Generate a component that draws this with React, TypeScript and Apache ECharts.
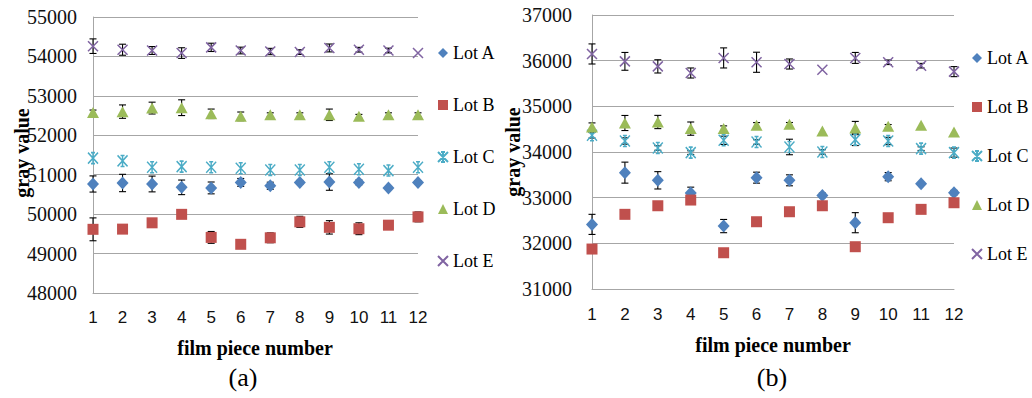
import React, { useEffect, useRef } from 'react';
import * as echarts from 'echarts';

// ---------- data ----------
const pieces = [1, 2, 3, 4, 5, 6, 7, 8, 9, 10, 11, 12];
const lotNames = ['Lot A', 'Lot B', 'Lot C', 'Lot D', 'Lot E'];

// y ranges and tick step
const rangeA = [48000, 55000];
const rangeB = [31000, 37000];
const yStep = 1000;

// panel (a) values and error (± half-length)
const aLotA = [50765, 50790, 50765, 50680, 50665, 50805, 50720, 50805, 50815, 50805, 50665, 50805];
const aLotAErr = [205, 220, 200, 185, 150, 100, 90, 50, 210, 60, 0, 40];
const aLotB = [49615, 49620, 49780, 49995, 49410, 49235, 49400, 49805, 49665, 49630, 49720, 49930];
const aLotBErr = [290, 40, 90, 0, 150, 50, 125, 140, 170, 150, 100, 125];
const aLotC = [51420, 51350, 51190, 51205, 51190, 51165, 51120, 51120, 51190, 51140, 51105, 51190];
const aLotCErr = [0, 0, 0, 0, 0, 0, 0, 0, 0, 0, 0, 0];
const aLotD = [52580, 52600, 52690, 52700, 52545, 52480, 52520, 52520, 52520, 52480, 52520, 52520];
const aLotDErr = [60, 170, 150, 200, 120, 110, 50, 50, 145, 50, 50, 50];
const aLotE = [54260, 54170, 54150, 54085, 54230, 54150, 54125, 54110, 54215, 54170, 54150, 54085];
const aLotEErr = [185, 140, 100, 135, 105, 85, 80, 60, 100, 60, 60, 0];

// panel (b)
const bLotA = [32415, 33548, 33380, 33100, 32378, 33438, 33380, 33050, 32452, 33460, 33307, 33110];
const bLotAErr = [220, 230, 190, 130, 145, 120, 120, 50, 220, 90, 0, 50];
const bLotB = [31875, 32635, 32823, 32948, 31794, 32473, 32692, 32823, 31926, 32561, 32744, 32889];
const bLotBErr = [0, 0, 0, 60, 0, 0, 0, 0, 0, 0, 0, 0];
const bLotC = [34366, 34241, 34088, 33987, 34256, 34219, 34110, 34000, 34271, 34241, 34074, 33987];
const bLotCErr = [60, 70, 50, 40, 90, 50, 170, 50, 130, 80, 40, 100];
const bLotD = [34547, 34635, 34657, 34512, 34512, 34584, 34606, 34460, 34525, 34562, 34584, 34437];
const bLotDErr = [90, 165, 145, 145, 60, 60, 40, 0, 145, 40, 0, 0];
const bLotE = [36147, 35985, 35875, 35730, 36060, 35965, 35927, 35803, 36060, 35965, 35890, 35760];
const bLotEErr = [220, 195, 145, 110, 220, 220, 110, 0, 120, 50, 50, 110];

const panelA = [
  { values: aLotA, errors: aLotAErr },
  { values: aLotB, errors: aLotBErr },
  { values: aLotC, errors: aLotCErr },
  { values: aLotD, errors: aLotDErr },
  { values: aLotE, errors: aLotEErr },
];
const panelB = [
  { values: bLotA, errors: bLotAErr },
  { values: bLotB, errors: bLotBErr },
  { values: bLotC, errors: bLotCErr },
  { values: bLotD, errors: bLotDErr },
  { values: bLotE, errors: bLotEErr },
];

// ---------- styles ----------
const SERIF = '"Liberation Serif", "Times New Roman", serif';
const SANS = '"Liberation Sans", Arial, sans-serif';
const GRID_COLOR = '#A6A6A6';
const lotStyles = [
  { symbol: 'diamond', size: [12, 13], color: '#4F81BD', border: 0 },
  { symbol: 'rect', size: 11, color: '#C0504D', border: 0 },
  {
    symbol: 'path://M0 0L10 10M10 0L0 10M5 0L5 10M3 0L7 0M3 10L7 10',
    size: [10, 11],
    color: '#4BACC6',
    border: 1.5,
  },
  { symbol: 'triangle', size: [12, 11], color: '#9BBB59', border: 0 },
  { symbol: 'path://M0 0L10 10M10 0L0 10', size: 10, color: '#8064A2', border: 1.5 },
];

const errorRender = (params: any, api: any) => {
  const x = api.value(0);
  const v = api.value(1);
  const e = api.value(2);
  if (!e || e <= 0) return null;
  const top = api.coord([x, v + e]);
  const bot = api.coord([x, v - e]);
  const w = 3.5;
  const style = { stroke: '#000', lineWidth: 1.1 };
  return {
    type: 'group',
    children: [
      { type: 'line', shape: { x1: top[0], y1: top[1], x2: bot[0], y2: bot[1] }, style },
      { type: 'line', shape: { x1: top[0] - w, y1: top[1], x2: top[0] + w, y2: top[1] }, style },
      { type: 'line', shape: { x1: bot[0] - w, y1: bot[1], x2: bot[0] + w, y2: bot[1] }, style },
    ],
  };
};

function buildSeries(panel: { values: number[]; errors: number[] }[], idx: number) {
  const out: any[] = [];
  panel.forEach((lot, i) => {
    out.push({
      type: 'custom',
      name: 'err-' + idx + '-' + i,
      xAxisIndex: idx,
      yAxisIndex: idx,
      data: pieces.map((p, k) => [p, lot.values[k], lot.errors[k]]),
      encode: { x: 0, y: 1 },
      renderItem: errorRender,
      z: 1,
      silent: true,
    });
  });
  panel.forEach((lot, i) => {
    const st = lotStyles[i];
    out.push({
      type: 'scatter',
      name: lotNames[i],
      xAxisIndex: idx,
      yAxisIndex: idx,
      data: pieces.map((p, k) => [p, lot.values[k]]),
      symbol: st.symbol,
      symbolSize: st.size,
      itemStyle: {
        color: st.color,
        borderColor: st.color,
        borderWidth: st.border,
        opacity: 1,
      },
      z: 2,
      silent: true,
    });
  });
  return out;
}

function xAxis(idx: number, margin: number) {
  return {
    type: 'value',
    gridIndex: idx,
    min: 1,
    max: 12,
    interval: 1,
    axisLine: { show: true, onZero: false, lineStyle: { color: GRID_COLOR, width: 1 } },
    axisTick: { show: false },
    splitLine: { show: false },
    axisLabel: { fontFamily: SANS, fontSize: 17, color: '#111', margin },
  };
}

function yAxis(idx: number, range: number[], margin: number) {
  return {
    type: 'value',
    gridIndex: idx,
    min: range[0],
    max: range[1],
    interval: yStep,
    axisLine: { show: true, onZero: false, lineStyle: { color: GRID_COLOR, width: 1 } },
    axisTick: { show: false },
    splitLine: { show: true, lineStyle: { color: GRID_COLOR, width: 1 } },
    axisLabel: {
      fontFamily: SERIF,
      fontSize: 20,
      color: '#111',
      margin,
      formatter: (v: number) => String(v),
    },
  };
}

function legend(left: number, top: number, gap: number) {
  return {
    orient: 'vertical',
    left,
    top,
    padding: 0,
    itemGap: gap,
    itemWidth: 10,
    itemHeight: 10,
    selectedMode: false,
    data: lotNames,
    textStyle: { fontFamily: SERIF, fontSize: 18, color: '#000', lineHeight: 20 },
  };
}

function titleText(text: string, x: number, y: number, opts: any = {}) {
  return {
    type: 'text',
    x,
    y,
    rotation: opts.rotation || 0,
    style: {
      text,
      fontFamily: SERIF,
      fontSize: opts.size || 20,
      fontWeight: opts.weight || 'bold',
      fill: '#000',
      align: 'center',
      verticalAlign: 'middle',
    },
  };
}

export default function App() {
  const ref = useRef<HTMLDivElement>(null);
  useEffect(() => {
    if (!ref.current) return;
    const chart = echarts.init(ref.current, undefined, { renderer: 'svg' });
    chart.setOption({
      animation: false,
      backgroundColor: '#fff',
      grid: [
        { left: 93, top: 17, width: 325, height: 276, containLabel: false },
        { left: 592, top: 15, width: 362, height: 274, containLabel: false },
      ],
      xAxis: [xAxis(0, 16), xAxis(1, 17)],
      yAxis: [yAxis(0, rangeA, 16), yAxis(1, rangeB, 20)],
      legend: [legend(437, 43, 32), legend(971, 48, 29)],
      series: [...buildSeries(panelA, 0), ...buildSeries(panelB, 1)],
      graphic: [
        titleText('gray value', 22, 153, { rotation: Math.PI / 2 }),
        titleText('gray value', 513, 152, { rotation: Math.PI / 2 }),
        titleText('film piece number', 255, 348),
        titleText('film piece number', 773, 345),
        titleText('(a)', 243, 377, { size: 26, weight: 'normal' }),
        titleText('(b)', 772, 377, { size: 26, weight: 'normal' }),
      ],
    });
    return () => chart.dispose();
  }, []);
  return (
    <div
      ref={ref}
      style={{ position: 'absolute', left: 0, top: 0, width: 1032, height: 398, background: '#fff' }}
    />
  );
}
